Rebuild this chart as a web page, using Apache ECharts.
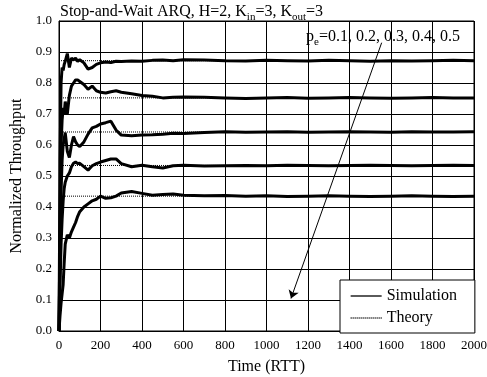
<!DOCTYPE html>
<html>
<head>
<meta charset="utf-8">
<script src="https://cdn.jsdelivr.net/npm/echarts@6/dist/echarts.min.js"></script>
<style>
  html, body { margin: 0; padding: 0; background: #fff; }
  #chart { width: 487px; height: 377px; }
</style>
</head>
<body>
<div id="chart"></div>
<script>
// time points (RTT) of the simulation traces
var timeRTT = [0, 5, 10, 15, 20, 25, 30, 40, 50, 60, 70, 80, 90, 100, 120, 140, 160, 180, 200, 225, 250, 275, 300, 350, 400, 450, 500, 550, 600, 700, 800, 900, 1000, 1100, 1200, 1300, 1400, 1500, 1600, 1700, 1800, 1900, 2000]

// simulated throughput, pe = 0.1 .. 0.5
var simPe01 = [0, 0.55, 0.80, 0.85, 0.84, 0.86, 0.87, 0.895, 0.85, 0.88, 0.875, 0.88, 0.87, 0.875, 0.865, 0.845, 0.85, 0.86, 0.865, 0.868, 0.866, 0.870, 0.869, 0.871, 0.870, 0.873, 0.874, 0.872, 0.875, 0.874, 0.872, 0.871, 0.873, 0.872, 0.871, 0.873, 0.872, 0.870, 0.872, 0.871, 0.872, 0.873, 0.872]
var simPe02 = [0, 0.35, 0.60, 0.68, 0.72, 0.70, 0.74, 0.70, 0.76, 0.79, 0.80, 0.81, 0.81, 0.805, 0.795, 0.78, 0.79, 0.775, 0.77, 0.768, 0.772, 0.775, 0.77, 0.765, 0.76, 0.757, 0.752, 0.754, 0.755, 0.754, 0.752, 0.750, 0.752, 0.753, 0.751, 0.752, 0.753, 0.752, 0.751, 0.752, 0.753, 0.752, 0.752]
var simPe03 = [0, 0.25, 0.45, 0.55, 0.60, 0.62, 0.64, 0.58, 0.56, 0.60, 0.627, 0.61, 0.60, 0.595, 0.61, 0.635, 0.655, 0.66, 0.668, 0.672, 0.677, 0.648, 0.632, 0.630, 0.632, 0.633, 0.635, 0.638, 0.637, 0.640, 0.643, 0.641, 0.642, 0.643, 0.641, 0.642, 0.643, 0.642, 0.641, 0.643, 0.642, 0.642, 0.643]
var simPe04 = [0, 0.15, 0.28, 0.36, 0.42, 0.46, 0.48, 0.50, 0.51, 0.53, 0.541, 0.545, 0.54, 0.541, 0.53, 0.519, 0.533, 0.54, 0.545, 0.55, 0.555, 0.555, 0.54, 0.53, 0.535, 0.53, 0.526, 0.533, 0.535, 0.532, 0.533, 0.534, 0.533, 0.535, 0.534, 0.533, 0.534, 0.535, 0.534, 0.533, 0.534, 0.535, 0.534]
var simPe05 = [0, 0.05, 0.09, 0.12, 0.15, 0.22, 0.28, 0.31, 0.30, 0.32, 0.335, 0.35, 0.37, 0.385, 0.40, 0.41, 0.42, 0.425, 0.435, 0.428, 0.430, 0.435, 0.445, 0.45, 0.444, 0.438, 0.44, 0.442, 0.438, 0.436, 0.437, 0.435, 0.436, 0.434, 0.435, 0.436, 0.435, 0.434, 0.435, 0.436, 0.435, 0.434, 0.435]

// analytic throughput levels
var theoryTime = [0, 2000]
var theoryLevels = [0.872, 0.752, 0.642, 0.534, 0.435]

// arrow annotation (data coords)
var arrowFrom = [1555, 0.93]
var arrowTo = [1118, 0.105]

var yTicks = [0, 0.1, 0.2, 0.3, 0.4, 0.5, 0.6, 0.7, 0.8, 0.9, 1.0]
var xTicks = [0, 200, 400, 600, 800, 1000, 1200, 1400, 1600, 1800, 2000]

var serif = 'Liberation Serif, Times New Roman, serif'

function pairs(xs, ys) {
  return xs.map(function(x, i) { return [x, ys[i]] })
}

// rich styles for text with subscripts
var richSub = {
  n: { fontFamily: serif, fontSize: 16, color: '#000', verticalAlign: 'top', lineHeight: 18 },
  sub: { fontFamily: serif, fontSize: 11, color: '#000', verticalAlign: 'top', lineHeight: 11, padding: [8, 0, 0, 0] }
}

var series = []
theoryLevels.forEach(function(v) {
  series.push({
    name: 'Theory',
    type: 'line',
    symbol: 'none',
    color: '#000',
    data: pairs(theoryTime, [v, v]),
    lineStyle: { color: '#000', width: 1, type: [1, 1] },
    z: 2
  })
})
;[simPe01, simPe02, simPe03, simPe04, simPe05].forEach(function(s, i) {
  var item = {
    name: 'Simulation',
    type: 'line',
    symbol: 'none',
    color: '#000',
    data: pairs(timeRTT, s),
    lineStyle: { color: '#000', width: 3 },
    z: 3
  }
  if (i === 0) {
    item.markLine = {
      silent: true,
      symbol: ['none', 'arrow'],
      symbolSize: 8,
      label: { show: false },
      lineStyle: { color: '#000', width: 1, type: 'solid' },
      data: [[{ coord: arrowFrom }, { coord: arrowTo }]]
    }
  }
  series.push(item)
})

var chart = echarts.init(document.getElementById('chart'))
chart.setOption({
  animation: false,
  backgroundColor: '#fff',
  textStyle: { fontFamily: serif, color: '#000' },
  title: {
    left: 58,
    top: 0,
    padding: [4, 0, 0, 2],
    text: '{n|Stop-and-Wait ARQ, H=2, K}{sub|in}{n|=3, K}{sub|out}{n|=3}',
    textStyle: {
      fontFamily: serif,
      fontSize: 16,
      fontWeight: 'normal',
      color: '#000',
      rich: richSub
    }
  },
  graphic: [{
    type: 'text',
    left: 306,
    top: 29,
    style: {
      text: '{n|p}{sub|e}{n|=0.1, 0.2, 0.3, 0.4, 0.5}',
      font: '16px ' + serif,
      fill: '#000',
      rich: {
        n: { fontFamily: serif, fontSize: 16, fill: '#000', verticalAlign: 'top', lineHeight: 18 },
        sub: { fontFamily: serif, fontSize: 11, fill: '#000', verticalAlign: 'top', lineHeight: 11, padding: [8, 0, 0, 0] }
      }
    },
    z: 10
  }],
  grid: {
    left: 59,
    right: 13,
    top: 21,
    bottom: 46,
    outerBoundsMode: 'none',
    show: true,
    borderColor: '#000',
    borderWidth: 1
  },
  legend: {
    data: ['Simulation', 'Theory'],
    orient: 'vertical',
    left: 340,
    top: 280,
    padding: [8, 18, 7, 10],
    itemGap: 6,
    itemWidth: 31,
    itemHeight: 15,
    backgroundColor: '#fff',
    borderColor: '#000',
    borderWidth: 1,
    itemStyle: { color: 'rgba(0,0,0,0)', borderWidth: 0 },
    lineStyle: { width: 1.3, color: '#000' },
    textStyle: { fontFamily: serif, fontSize: 16, color: '#000' }
  },
  xAxis: {
    type: 'value',
    min: xTicks[0],
    max: xTicks[xTicks.length - 1],
    interval: 200,
    name: 'Time (RTT)',
    nameLocation: 'middle',
    nameGap: 28,
    nameTextStyle: { fontFamily: serif, fontSize: 16, color: '#000' },
    axisLine: { show: true, lineStyle: { color: '#000' } },
    axisTick: { show: false },
    axisLabel: {
      fontFamily: serif,
      fontSize: 13,
      color: '#000',
      margin: 8,
      formatter: function(v) { return String(v) }
    },
    splitLine: { show: true, lineStyle: { color: '#000', width: 1 } }
  },
  yAxis: {
    type: 'value',
    min: yTicks[0],
    max: yTicks[yTicks.length - 1],
    interval: 0.1,
    name: 'Normalized Throughput',
    nameLocation: 'middle',
    nameGap: 29,
    nameTextStyle: { fontFamily: serif, fontSize: 16, color: '#000' },
    axisLine: { show: true, lineStyle: { color: '#000' } },
    axisTick: { show: false },
    axisLabel: {
      fontFamily: serif,
      fontSize: 13,
      color: '#000',
      margin: 7,
      formatter: function(v) { return v.toFixed(1) }
    },
    splitLine: { show: true, lineStyle: { color: '#000', width: 1 } }
  },
  series: series
})
</script>
</body>
</html>
